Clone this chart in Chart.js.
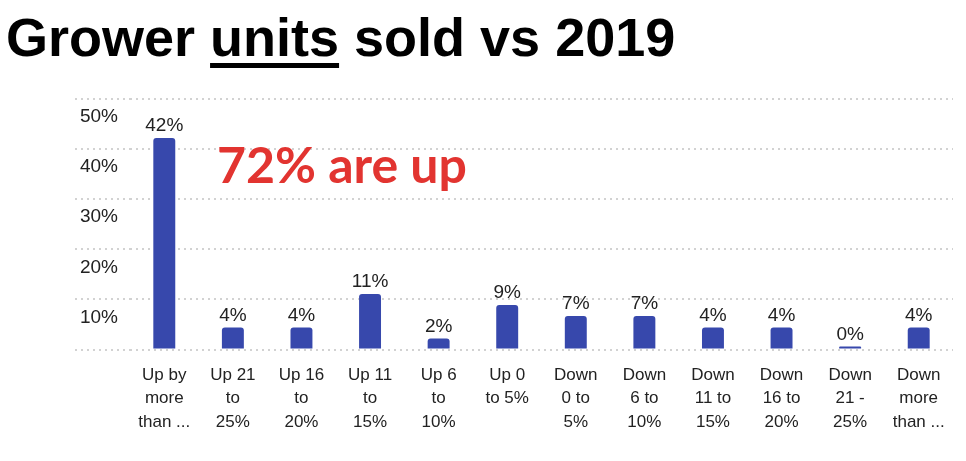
<!DOCTYPE html>
<html>
<head>
<meta charset="utf-8">
<script src="https://cdn.jsdelivr.net/npm/chart.js@4"></script>
<style>
  body { margin: 0; background: #fff; }
  #caja { position: relative; width: 966px; height: 461px; overflow: hidden; }
  #titulo {
    position: absolute; left: 6px; top: 10px; margin: 0;
    font: bold 54px/1 "Liberation Sans", Arial, sans-serif; color: #000; white-space: nowrap;
  }
  #titulo u { text-decoration-thickness: 5px; text-underline-offset: 7px; }
  #nota {
    position: absolute; left: 217px; top: 139px;
    font: bold 50px/1 Lato, "Open Sans", sans-serif; color: rgb(226, 52, 48); white-space: nowrap;
  }
  #myChart { position: absolute; left: 0; top: 0; }
</style>
</head>
<body>
<div id="caja">
  <canvas id="myChart" width="966" height="461"></canvas>
  <h1 id="titulo">Grower <u>units</u> sold vs 2019</h1>
  <div id="nota">72% are up</div>
</div>
<script>
// categorias del eje X (etiquetas en varias lineas)
const categorias = [
    ["Up by", "more", "than ..."],
    ["Up 21", "to", "25%"],
    ["Up 16", "to", "20%"],
    ["Up 11", "to", "15%"],
    ["Up 6", "to", "10%"],
    ["Up 0", "to 5%"],
    ["Down", "0 to", "5%"],
    ["Down", "6 to", "10%"],
    ["Down", "11 to", "15%"],
    ["Down", "16 to", "20%"],
    ["Down", "21 -", "25%"],
    ["Down", "more", "than ..."]
]
// porcentaje de productores en cada rango
const valores = [42.2, 4.4, 4.4, 11.1, 2.2, 8.9, 6.7, 6.7, 4.4, 4.4, 0, 4.4]
// ticks del eje Y
const ticksY = [0, 10, 20, 30, 40, 50]

const miGraf = document.querySelector("#myChart")
const colorGrilla = "#d2d2d2"

const etiquetasBarras = { // pone el % encima de cada barra
    id: "etiquetasBarras",
    afterDatasetsDraw(chart) {
        const ctx = chart.ctx
        const meta = chart.getDatasetMeta(0)
        ctx.save()
        ctx.font = '19px "Liberation Sans", Arial, sans-serif'
        ctx.fillStyle = "#222"
        ctx.textAlign = "center"
        ctx.textBaseline = "alphabetic"
        meta.data.forEach((barra, i) => {
            ctx.fillText(Math.round(valores[i]) + "%", barra.x, barra.y - 7)
        })
        ctx.restore()
    }
}

const config = {
    type: "bar",
    data: {
        labels: categorias,
        datasets: [
            {
                data: valores,
                backgroundColor: "#3748ac",
                borderRadius: 3,
                minBarLength: 3,
                barPercentage: 0.32,
                categoryPercentage: 1
            }
        ]
    },
    options: {
        responsive: false,
        animation: false,
        layout: { padding: { left: 75, right: 13, top: 99, bottom: 13 } },
        plugins: {
            legend: { display: false },
            tooltip: { enabled: false }
        },
        scales: {
            x: {
                grid: { display: false, drawTicks: false },
                border: { display: false },
                ticks: {
                    color: "#222",
                    padding: 14,
                    maxRotation: 0,
                    autoSkip: false,
                    font: { family: '"Liberation Sans", Arial, sans-serif', size: 17, lineHeight: 1.38 }
                }
            },
            y: {
                min: ticksY[0],
                max: ticksY[ticksY.length - 1],
                afterFit(scale) { scale.width = 55 },
                afterBuildTicks(scale) { scale.ticks = ticksY.map(v => ({ value: v })) },
                grid: {
                    color: colorGrilla,
                    lineWidth: 2,
                    drawTicks: true,
                    tickLength: 55,
                    tickColor: colorGrilla,
                    tickBorderDash: [2, 4]
                },
                border: { display: false, dash: [2, 4] },
                ticks: {
                    color: "#222",
                    padding: -43,
                    labelOffset: 18,
                    font: { family: '"Liberation Sans", Arial, sans-serif', size: 19 },
                    callback: (v) => v === 0 ? "" : v + "%"
                }
            }
        }
    },
    plugins: [etiquetasBarras]
}

const myChart = new Chart(miGraf, config)
</script>
</body>
</html>
